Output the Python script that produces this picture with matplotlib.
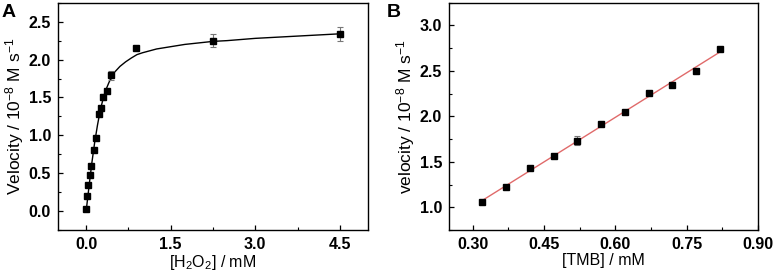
import numpy as np
import matplotlib
matplotlib.use("Agg")
import matplotlib.pyplot as plt
from matplotlib.ticker import MultipleLocator, FormatStrFormatter

plt.rcParams['font.family'] = ['Liberation Sans', 'DejaVu Sans']
plt.rcParams['mathtext.fontset'] = 'custom'
plt.rcParams['mathtext.rm'] = 'Liberation Sans'
plt.rcParams['mathtext.it'] = 'Liberation Sans'
plt.rcParams['mathtext.bf'] = 'Liberation Sans:bold'

# Panel A data: H2O2 concentration (mM) vs velocity (1e-8 M/s)
h2o2_conc = [0.0, 0.02, 0.04, 0.065, 0.08, 0.135, 0.18, 0.225, 0.27, 0.30, 0.37, 0.44, 0.89, 2.25, 4.5]
h2o2_vel = [0.03, 0.20, 0.34, 0.48, 0.59, 0.81, 0.97, 1.28, 1.36, 1.51, 1.58, 1.79, 2.15, 2.25, 2.34]
h2o2_err = [0.02, 0.02, 0.02, 0.02, 0.02, 0.02, 0.02, 0.02, 0.03, 0.04, 0.02, 0.06, 0.0, 0.09, 0.09]

# Panel A fitted curve
fit_a_x = [0, .05, .10, .15, .20, .25, .30, .35, .40, .45, .50, .60, .70, .80, .90, 1.0,
           1.25, 1.5, 1.75, 2.0, 2.25, 2.5, 3.0, 3.5, 4.0, 4.5]
fit_a_y = [0, .32, .63, .90, 1.13, 1.33, 1.48, 1.60, 1.69, 1.77, 1.83, 1.91, 1.97, 2.02, 2.065, 2.09,
           2.14, 2.17, 2.20, 2.22, 2.24, 2.25, 2.28, 2.30, 2.32, 2.34]

# Panel B data: TMB concentration (mM) vs velocity
tmb_conc = [0.32, 0.37, 0.42, 0.47, 0.52, 0.57, 0.62, 0.67, 0.72, 0.77, 0.82]
tmb_vel = [1.06, 1.22, 1.43, 1.56, 1.73, 1.92, 2.05, 2.26, 2.34, 2.50, 2.74]
tmb_err = [0.01, 0.01, 0.02, 0.02, 0.05, 0.01, 0.01, 0.01, 0.01, 0.01, 0.01]

fig = plt.figure(figsize=(7.75, 2.76), dpi=100)
axA = fig.add_axes([0.0748, 0.1667, 0.400, 0.8233])
axB = fig.add_axes([0.5794, 0.1667, 0.3987, 0.8233])

def style(ax):
    for s in ax.spines.values():
        s.set_linewidth(1.0)
    ax.tick_params(which='both', direction='in', top=False, right=False)
    ax.tick_params(which='major', length=3.5, width=0.9, labelsize=11.5, pad=5)
    ax.tick_params(which='minor', length=2.2, width=0.8)
    for lab in ax.get_xticklabels() + ax.get_yticklabels():
        lab.set_fontweight('bold')

# Panel A
axA.plot(fit_a_x, fit_a_y, color='black', lw=1.0, zorder=2)
axA.errorbar(h2o2_conc, h2o2_vel, yerr=h2o2_err, fmt='s', color='black', ms=5,
             ecolor='#777777', elinewidth=0.8, capsize=2, capthick=0.8, zorder=3)
axA.set_xlim(-0.5, 5.0)
axA.set_ylim(-0.25, 2.75)
axA.xaxis.set_major_locator(MultipleLocator(1.5))
axA.xaxis.set_minor_locator(MultipleLocator(0.75))
axA.yaxis.set_major_locator(MultipleLocator(0.5))
axA.yaxis.set_minor_locator(MultipleLocator(0.25))
axA.xaxis.set_major_formatter(FormatStrFormatter('%.1f'))
axA.yaxis.set_major_formatter(FormatStrFormatter('%.1f'))
style(axA)
axA.set_xlabel(r'[H$_2$O$_2$] / mM', fontsize=11.5, labelpad=1)
axA.set_ylabel(r'Velocity / 10$^{-8}$ M s$^{-1}$', fontsize=12.5, labelpad=2)

# Panel B
coef = np.polyfit(tmb_conc, tmb_vel, 1)
xl = np.array([tmb_conc[0], tmb_conc[-1]])
axB.plot(xl, np.polyval(coef, xl), color='#e06a6a', lw=1.0, zorder=2)
axB.errorbar(tmb_conc, tmb_vel, yerr=tmb_err, fmt='s', color='black', ms=5,
             ecolor='#777777', elinewidth=0.8, capsize=2, capthick=0.8, zorder=3)
axB.set_xlim(0.25, 0.90)
axB.set_ylim(0.75, 3.25)
axB.xaxis.set_major_locator(MultipleLocator(0.15))
axB.xaxis.set_minor_locator(MultipleLocator(0.075))
axB.yaxis.set_major_locator(MultipleLocator(0.5))
axB.yaxis.set_minor_locator(MultipleLocator(0.25))
axB.xaxis.set_major_formatter(FormatStrFormatter('%.2f'))
axB.yaxis.set_major_formatter(FormatStrFormatter('%.1f'))
style(axB)
axB.set_xlabel('[TMB] / mM', fontsize=11.5, labelpad=1)
axB.set_ylabel(r'velocity / 10$^{-8}$ M s$^{-1}$', fontsize=12.5, labelpad=2)

fig.text(0.002, 0.955, 'A', fontsize=14, fontweight='bold', va='center', ha='left')
fig.text(0.499, 0.955, 'B', fontsize=14, fontweight='bold', va='center', ha='left')

fig.savefig('out.png', dpi=100)
